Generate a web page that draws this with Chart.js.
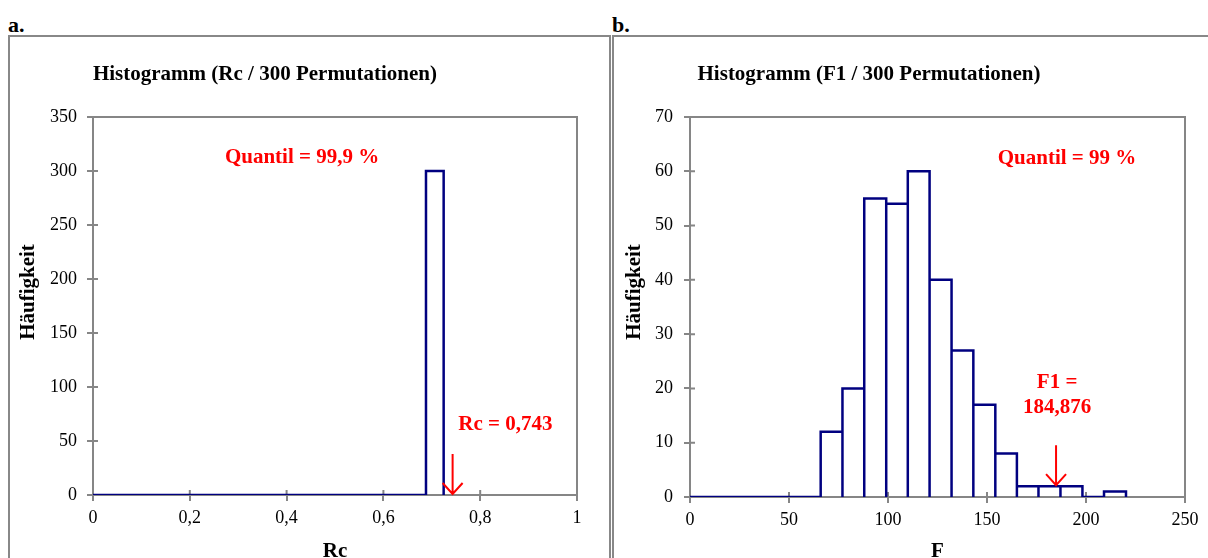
<!DOCTYPE html>
<html>
<head>
<meta charset="utf-8">
<script src="https://cdn.jsdelivr.net/npm/chart.js@4.4.1/dist/chart.umd.min.js"></script>
<style>
  body { margin:0; width:1208px; height:558px; overflow:hidden; position:relative; background:#fff; font-family:"Liberation Serif", "Times New Roman", serif; }
  .tag { position:absolute; top:14px; font:bold 22px/22px "Liberation Serif", serif; color:#000; }
  .panel { position:absolute; top:35px; height:540px; border:2px solid #888; box-sizing:border-box; }
  canvas { position:absolute; }
</style>
</head>
<body>
<div class="tag" style="left:8px">a.</div>
<div class="tag" style="left:612px">b.</div>
<div class="panel" style="left:8px;width:603px"></div>
<div class="panel" style="left:612px;width:610px"></div>
<canvas id="histRc" width="598" height="521" style="left:9px;top:37px"></canvas>
<canvas id="histF" width="594" height="521" style="left:614px;top:37px"></canvas>

<script>
// Rc histogram (300 permutations) - every permutation falls into one bin
const rcStart = 0;
const rcEdges = [0.688, 0.7245];
const rcCounts = [300];
const rcObserved = 0.743;

// F1 histogram (300 permutations)
const fStart = 0;
const fEdges = [66, 77, 88, 99.1, 110, 121, 132.1, 143.1, 154.2, 165.1, 176, 187.1, 198.2, 209.1, 220.2];
const fCounts = [12, 20, 55, 54, 60, 40, 27, 17, 8, 2, 2, 2, 0, 1];
const fObserved = 184.876;

const SERIF = '"Liberation Serif", "Times New Roman", serif';
const NAVY = '#000080';
const AXIS_GRAY = '#868686';

// outline of each bin as one continuous polyline, starting at the axis origin
function outline(start, edges, counts) {
  const pts = [{ x: start, y: 0 }];
  counts.forEach((c, i) => {
    pts.push({ x: edges[i], y: 0 }, { x: edges[i], y: c }, { x: edges[i + 1], y: c }, { x: edges[i + 1], y: 0 });
  });
  return pts;
}

// count of the bin holding a value (arrow tip sits on top of it)
function binHeight(v, edges, counts) {
  for (let i = 0; i < counts.length; i++) if (v >= edges[i] && v < edges[i + 1]) return counts[i];
  return 0;
}

const deComma = v => String(+v.toFixed(3)).replace('.', ',');

// plot frame + crossing tick marks under the outline; titles and red notes on top
const framePlugin = {
  id: 'frame',
  beforeDatasetsDraw(chart) {
    const { ctx, chartArea: a, scales: { x, y } } = chart;
    ctx.save();
    ctx.strokeStyle = AXIS_GRAY;
    ctx.lineWidth = 2;
    ctx.strokeRect(a.left, a.top, a.right - a.left, a.bottom - a.top);
    ctx.beginPath();
    x.ticks.forEach(t => { const px = x.getPixelForValue(t.value); ctx.moveTo(px, a.bottom); ctx.lineTo(px, a.bottom - 5); });
    y.ticks.forEach(t => { const py = y.getPixelForValue(t.value); ctx.moveTo(a.left, py); ctx.lineTo(a.left + 5, py); });
    ctx.stroke();
    ctx.restore();
  },
  afterDraw(chart, args, opts) {
    const { ctx, scales: { x, y } } = chart;
    ctx.save();
    ctx.fillStyle = '#000';
    ctx.font = 'bold 21px ' + SERIF;
    ctx.textAlign = 'center';
    ctx.textBaseline = 'alphabetic';
    ctx.fillText(opts.title, opts.titleX, 43);

    // vertical axis title
    ctx.save();
    ctx.translate(opts.yTitleX, 255);
    ctx.rotate(-Math.PI / 2);
    ctx.textBaseline = 'middle';
    ctx.fillText('Häufigkeit', 0, 0);
    ctx.restore();

    ctx.fillStyle = '#ff0000';
    ctx.textBaseline = 'middle';
    opts.notes.forEach(n => ctx.fillText(n.text, x.getPixelForValue(n.x), y.getPixelForValue(n.y)));

    // arrow pointing down at the observed value
    const ax = x.getPixelForValue(opts.arrow.x);
    const ay = y.getPixelForValue(opts.arrow.y) - 1;
    ctx.strokeStyle = '#ff0000';
    ctx.lineWidth = 2;
    ctx.beginPath();
    ctx.moveTo(ax, ay - 40); ctx.lineTo(ax, ay);
    ctx.moveTo(ax - 10, ay - 11); ctx.lineTo(ax, ay); ctx.lineTo(ax + 10, ay - 11);
    ctx.stroke();
    ctx.restore();
  }
};

function axisX(min, max, step, label, height) {
  return {
    type: 'linear', min, max,
    ticks: { stepSize: step, color: '#000', font: { family: SERIF, size: 18 }, padding: 6, callback: deComma },
    grid: { drawOnChartArea: false, color: AXIS_GRAY, lineWidth: 2, tickLength: 6 },
    border: { color: AXIS_GRAY, width: 2 },
    title: { display: true, text: label, color: '#000', font: { family: SERIF, size: 21, weight: 'bold' }, padding: { top: 0, bottom: -6 } },
    afterFit(s) { s.height = height; }
  };
}

function axisY(max, step, width, pad) {
  return {
    min: 0, max,
    ticks: { stepSize: step, color: '#000', font: { family: SERIF, size: 18 }, padding: pad },
    grid: { drawOnChartArea: false, color: AXIS_GRAY, lineWidth: 2, tickLength: 6 },
    border: { color: AXIS_GRAY, width: 2 },
    afterFit(s) { s.width = width; }
  };
}

function buildHist(id, points, scales, padRight, frame) {
  return new Chart(document.getElementById(id), {
    type: 'scatter',
    data: { datasets: [{ data: points, showLine: true, borderColor: NAVY, borderWidth: 2.5, pointRadius: 0, tension: 0, fill: false }] },
    options: {
      responsive: false,
      animation: false,
      layout: { padding: { top: 80, right: padRight, left: 0, bottom: 0 } },
      plugins: { legend: { display: false }, tooltip: { enabled: false }, frame },
      scales
    },
    plugins: [framePlugin]
  });
}

buildHist('histRc', outline(rcStart, rcEdges, rcCounts),
  { x: axisX(0, 1, 0.2, 'Rc', 63), y: axisY(350, 50, 84, 10) }, 30,
  {
    title: 'Histogramm (Rc / 300 Permutationen)', titleX: 256, yTitleX: 20,
    notes: [{ text: 'Quantil = 99,9 %', x: 0.432, y: 312 }, { text: 'Rc = ' + deComma(rcObserved), x: 0.852, y: 65 }],
    arrow: { x: rcObserved, y: binHeight(rcObserved, rcEdges, rcCounts) }
  });

buildHist('histF', outline(fStart, fEdges, fCounts),
  { x: axisX(0, 250, 50, 'F', 61), y: axisY(70, 10, 76, 11) }, 23,
  {
    title: 'Histogramm (F1 / 300 Permutationen)', titleX: 255, yTitleX: 21,
    notes: [{ text: 'Quantil = 99 %', x: 190.4, y: 62.4 }, { text: 'F1 =', x: 185.4, y: 21 }, { text: deComma(fObserved), x: 185.4, y: 16.4 }],
    arrow: { x: fObserved, y: binHeight(fObserved, fEdges, fCounts) }
  });
</script>
</body>
</html>
